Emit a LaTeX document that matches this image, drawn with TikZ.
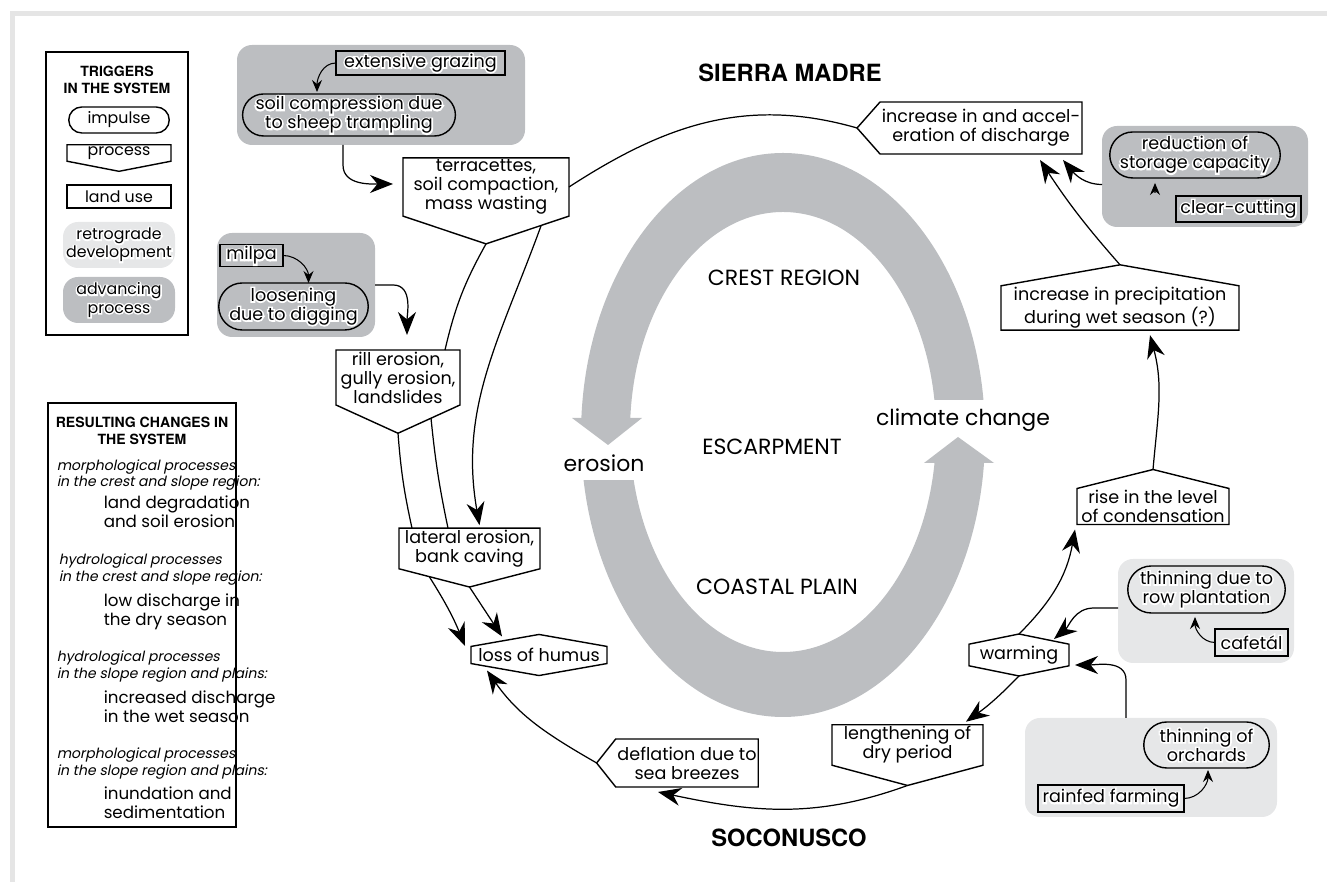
\documentclass[tikz,border=0pt]{standalone}
\usepackage{fontspec}
\setmainfont{Poppins}[AutoFakeSlant=0.2]
\newfontfamily\headfont{TeX Gyre Heros}
\newfontfamily\halofont{Poppins}[FakeBold=18]
\usetikzlibrary{shapes.symbols,shapes.misc,arrows.meta,calc}

\definecolor{advgray}{RGB}{188,190,193}
\definecolor{retgray}{RGB}{230,231,232}
\definecolor{framegray}{RGB}{229,229,229}

\newcommand{\halo}[1]{\rlap{\color{white}\halofont #1}#1}

\begin{document}
\begin{tikzpicture}[x=0.2mm, y=0.2mm,
    font=\fontsize{10}{10.8}\selectfont,
    every node/.style={inner sep=1pt, outer sep=0pt},
    boxline/.style={draw, line width=0.8pt},
    downbox/.style={boxline, signal, signal to=south, align=center},
    leftbox/.style={boxline, signal, signal to=west, align=center},
    upbox/.style={boxline, signal, signal to=north, align=center},
    hexbox/.style={boxline, signal, signal to=north and south, align=center},
    impbox/.style={boxline, rounded rectangle, align=center},
    usebox/.style={boxline, rectangle, align=center},
    advbg/.style={fill=advgray, rounded corners=3mm, align=center},
    retbg/.style={fill=retgray, rounded corners=3mm, align=center},
    legtext/.style={font=\fontsize{9}{10.4}\selectfont},
    legital/.style={font=\itshape\fontsize{8}{8.2}\selectfont, anchor=west, align=left},
    legbody/.style={font=\fontsize{9.5}{11}\selectfont, anchor=west, align=left},
    headtext/.style={font=\headfont\bfseries\fontsize{8}{10}\selectfont, align=center},
    titletext/.style={font=\headfont\bfseries\fontsize{13.5}{16}\selectfont},
    regionlabel/.style={font=\fontsize{12.5}{15}\selectfont},
    link/.style={line width=0.7pt},
    bigarrow/.style={line width=0.7pt, -{Stealth[length=4.6mm,width=3.6mm,inset=1.5mm]}},
    smallarrow/.style={line width=0.6pt, -{Stealth[length=2.4mm,width=2mm,inset=0.8mm]}}]
\useasboundingbox (0,0) rectangle (1327,882);
\draw[framegray, line width=1mm] (12.5,0) |- (1327,868.5);

% big ring
\fill[advgray, even odd rule] (783,447) ellipse [x radius=202, y radius=282]
    (783,450) ellipse [x radius=153, y radius=220];
\fill[white] (570,402) rectangle (645,464);
\fill[white] (920,419) rectangle (1000,482);
\fill[advgray] (572,464) -- (642,464) -- (608,437) -- cycle;
\fill[advgray] (924,419) -- (994,419) -- (958,445) -- cycle;
\node[regionlabel] (crest) at (784,604) {CREST REGION};
\node[regionlabel] (escarp) at (772,435) {ESCARPMENT};
\node[regionlabel] (coast) at (777,295) {COASTAL PLAIN};
\node[regionlabel] (eros) at (604,419) {erosion};
\node[regionlabel] (clim) at (963,462) {climate change};
\node[titletext] (sierra) at (790,809) {SIERRA MADRE};
\node[titletext] (soco) at (789,44) {SOCONUSCO};

% legend: triggers
\node[boxline, minimum width=28.4mm, minimum height=56.6mm] (trigbox) at (117,688.5) {};
\node[headtext] (trighead) at (117,802) {TRIGGERS\\IN THE SYSTEM};
\node[impbox, legtext, minimum width=20.8mm, minimum height=5.2mm] (limp) at (119,762) {impulse};
\node[downbox, legtext, signal pointer angle=158, minimum width=20.8mm, minimum height=4mm] (lproc) at (119,729) {process};
\node[usebox, legtext, minimum width=20.8mm, minimum height=4.6mm] (luse) at (119,685.5) {land use};
\node[retbg, legtext, minimum width=22.4mm, minimum height=9.2mm] (lret) at (119,637) {\halo{retrograde}\\\halo{development}};
\node[advbg, legtext, minimum width=22.4mm, minimum height=9.2mm] (ladv) at (119,582) {\halo{advancing}\\\halo{process}};

% legend: resulting changes
\node[boxline, minimum width=37.6mm, minimum height=84.8mm] (resbox) at (142,267) {};
\node[headtext] (reshead) at (142,451) {RESULTING CHANGES IN\\THE SYSTEM};
\node[legital] (morph1) at (55,407) {morphological processes\\in the crest and slope region:};
\node[legbody] (res1) at (102,370) {land degradation\\and soil erosion};
\node[legital] (hydro1) at (57,312.5) {hydrological processes\\in the crest and slope region:};
\node[legbody] (res2) at (102,270.5) {low discharge in\\the dry season};
\node[legital] (hydro2) at (55,215.5) {hydrological processes\\in the slope region and plains:};
\node[legbody] (res3) at (102,175) {increased discharge\\in the wet season};
\node[legital] (morph2) at (55,118.5) {morphological processes\\in the slope region and plains:};
\node[legbody] (res4) at (102,79.5) {inundation and\\sedimentation};

% advancing and retrograde groups
\node[advbg, minimum width=57.6mm, minimum height=20mm] (grazbg) at (381,787) {};
\node[usebox, minimum width=33.8mm, minimum height=4.8mm] (graz) at (420.5,819) {\halo{extensive grazing}};
\node[impbox, minimum width=42.4mm, minimum height=8.4mm] (soil) at (349,767) {\halo{soil compression due}\\\halo{to sheep trampling}};
\node[advbg, minimum width=31.6mm, minimum height=20.8mm] (milbg) at (296,597) {};
\node[usebox, minimum width=12.6mm, minimum height=4.2mm] (milpa) at (251.5,626.5) {\halo{milpa}};
\node[impbox, minimum width=30.6mm, minimum height=9.4mm] (loos) at (293.5,575.5) {\halo{loosening}\\\halo{due to digging}};
\node[advbg, minimum width=41.2mm, minimum height=20.2mm] (trbg) at (1205,705.5) {};
\node[impbox, minimum width=34.8mm, minimum height=9.2mm] (red) at (1195,727) {\halo{reduction of}\\\halo{storage capacity}};
\node[usebox, minimum width=25mm, minimum height=5.2mm] (clear) at (1238.5,673) {\halo{clear-cutting}};
\node[retbg, minimum width=35.2mm, minimum height=20.8mm] (thinbg) at (1206,271) {};
\node[impbox, minimum width=32.2mm, minimum height=9.4mm] (thin) at (1206.5,292.5) {\halo{thinning due to}\\\halo{row plantation}};
\node[usebox, minimum width=14.6mm, minimum height=5.4mm] (caf) at (1251.5,239.5) {\halo{cafetál}};
\node[retbg, minimum width=50.4mm, minimum height=19.8mm] (botbg) at (1151,114.5) {};
\node[impbox, minimum width=25.8mm, minimum height=9.2mm] (orch) at (1206.5,137) {\halo{thinning of}\\\halo{orchards}};
\node[usebox, minimum width=29.2mm, minimum height=5.4mm] (rain) at (1111,83.5) {\halo{rainfed farming}};

% processes
\node[downbox, signal pointer angle=143, minimum width=33.2mm, minimum height=12mm] (terr) at (486,695) {terracettes,\\soil compaction,\\mass wasting};
\node[downbox, signal pointer angle=131, minimum width=24.8mm, minimum height=11.8mm] (rill) at (398,504.5) {rill erosion,\\gully erosion,\\landslides};
\node[downbox, signal pointer angle=151, minimum width=28.2mm, minimum height=8.6mm] (lat) at (469.5,333.5) {lateral erosion,\\bank caving};
\node[hexbox, signal pointer angle=160, minimum width=27.2mm, minimum height=4.4mm] (hum) at (539,227) {loss of humus};
\node[leftbox, signal pointer angle=103, minimum width=30mm, minimum height=9.6mm] (defl) at (687,119) {deflation due to\\sea breezes};
\node[downbox, signal pointer angle=150, minimum width=30.2mm, minimum height=8.8mm] (leng) at (907.5,137) {lengthening of\\dry period};
\node[hexbox, signal pointer angle=157, minimum width=20mm, minimum height=4.8mm] (warm) at (1019,227) {warming};
\node[upbox, signal pointer angle=152, minimum width=30.4mm, minimum height=9.4mm] (rise) at (1153,375.5) {rise in the level\\of condensation};
\node[upbox, signal pointer angle=160, minimum width=47.6mm, minimum height=10mm] (prec) at (1120,574) {increase in precipitation\\during wet season (?)};
\node[leftbox, signal pointer angle=97, minimum width=41.2mm, minimum height=10.4mm] (incdis) at (981,754) {increase in and accel-\\eration of discharge};

% connectors
\draw[link] (terr.east) to[out=33,in=164] (incdis.west);
\draw[link] (terr.south) to[bend right=8] ($(rill.north)+(47,0)$);
\draw[bigarrow] ($(terr.south)+(55,18)$) to[out=-110,in=100] ($(lat.north)+(10,3)$);
\draw[link] (rill.south) to[bend right=4] ($(lat.north)+(-57.5,0)$);
\draw[link] ($(rill.south)+(33,15)$) to[bend right=3] ($(lat.north)+(-21.5,0)$);
\draw[bigarrow] ($(lat.south)+(-40,10)$) to[bend left=5] ($(hum.west)+(-6,9)$);
\draw[bigarrow] (lat.south) -- ($(hum.north)+(-37,-2)$);
\draw[bigarrow] (defl.west) to[out=150,in=-55] ($(hum.south)+(-52,5)$);
\draw[bigarrow] (leng.south) to[out=200,in=-12] ($(defl.south)+(-29,-5)$);
\draw[bigarrow] (warm.south) to[bend left=5] ($(leng.north)+(58.5,3)$);
\draw[bigarrow] (warm.north) to[out=45,in=-100] ($(rise.south)+(-78,-5)$);
\draw[bigarrow] (rise.north) to[out=85,in=-75] ($(prec.south)+(30,-5)$);
\draw[bigarrow] (prec.north) to[bend left=4] ($(incdis.south)+(59,-6)$);
\draw[bigarrow] ($(trbg.west)+(0,-8)$) to[out=180,in=-50] ($(incdis.south)+(82,-6)$);
\draw[smallarrow] ($(clear.north west)+(-21,3)$) -- ($(red.south)+(-40,-5)$);
\draw[bigarrow] ($(thinbg.west)+(0,3)$) -- ++(-24,0) to[out=180,in=40] ($(warm.north)+(35,-5)$);
\draw[bigarrow] ($(botbg.north)+(-25,0)$) -- ++(0,38) to[out=90,in=0] ($(warm.east)+(6,-10)$);
\draw[smallarrow] (caf.west) to[out=180,in=-90] ($(thin.south)+(-11.5,-4)$);
\draw[smallarrow] (rain.east) to[out=0,in=-90] ($(orch.south)+(1.5,-2)$);
\draw[smallarrow] (graz.west) to[out=180,in=90] ($(soil.north)+(-32,2)$);
\draw[smallarrow] (milpa.east) to[out=0,in=90] ($(loos.north)+(15,0)$);
\draw[bigarrow] ($(grazbg.south)+(-38,0)$) -- ++(0,-20) to[out=-90,in=180] ($(terr.west)+(-10,3)$);
\draw[bigarrow] (milbg.east) -- ++(18,0) to[out=0,in=90] ($(rill.north)+(9,15)$);
\end{tikzpicture}
\end{document}
